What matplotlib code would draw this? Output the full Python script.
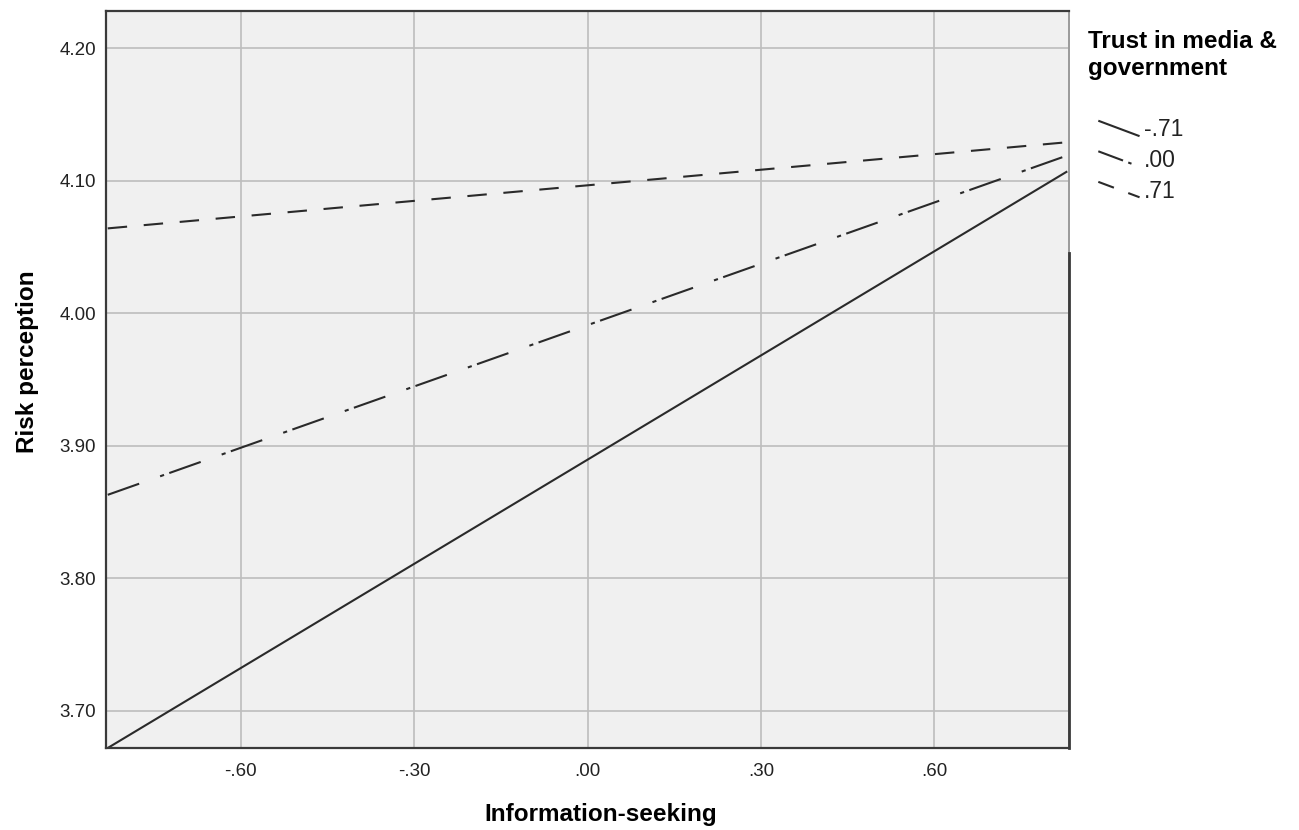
import matplotlib
matplotlib.use("Agg")
import matplotlib.pyplot as plt
from matplotlib.lines import Line2D
from matplotlib.legend_handler import HandlerLine2D

plt.rcParams['font.family'] = ['Liberation Sans', 'DejaVu Sans']
plt.rcParams['lines.scale_dashes'] = False

# data
info_seeking = [-0.83, 0.83]
trust_levels = ['-.71', '.00', '.71']
risk_low = [3.672, 4.107]    # trust -.71
risk_mid = [3.863, 4.119]    # trust .00
risk_high = [4.064, 4.129]   # trust .71
x_ticks = [-0.60, -0.30, 0.00, 0.30, 0.60]
x_ticklabels = ['-.60', '-.30', '.00', '.30', '.60']
y_ticks = [3.70, 3.80, 3.90, 4.00, 4.10, 4.20]
y_ticklabels = ['3.70', '3.80', '3.90', '4.00', '4.10', '4.20']

line_col = '#2a2a2a'
dash_styles = [(0, ()), (0, (24, 16, 3, 4)), (0, (14, 12))]
# the little legend samples show a shorter piece of each pattern
legend_dashes = [None, (19, 4, 2.5, 20), (12, 11)]


class DiagonalHandler(HandlerLine2D):
    # SPSS style legend samples: short falling diagonal
    def __init__(self, dashes=None, **kw):
        super().__init__(**kw)
        self.dashes = dashes

    def create_artists(self, legend, orig_handle, xdescent, ydescent,
                       width, height, fontsize, trans):
        x0 = -xdescent + 0.2 * width
        x1 = -xdescent + width
        ln = Line2D([x0, x1], [height - ydescent, -ydescent])
        self.update_prop(ln, orig_handle, legend)
        if self.dashes is not None:
            ln.set_dashes(self.dashes)
        ln.set_transform(trans)
        return [ln]


fig = plt.figure(figsize=(12.99, 8.30), dpi=100)
ax = fig.add_axes([106 / 1299, 82 / 830, 963 / 1299, 737 / 830])
ax.set_facecolor('#f0f0f0')

series = [risk_low, risk_mid, risk_high]
handles = []
for ys, ls, lab in zip(series, dash_styles, trust_levels):
    h, = ax.plot(info_seeking, ys, color=line_col, lw=1.5, linestyle=ls, label=lab)
    handles.append(h)

ax.set_xlim(-0.833, 0.833)
ax.set_ylim(3.672, 4.228)
ax.set_xticks(x_ticks)
ax.set_xticklabels(x_ticklabels)
ax.set_yticks(y_ticks)
ax.set_yticklabels(y_ticklabels)
ax.tick_params(length=0, labelsize=13.5, colors='#222222')
ax.tick_params(axis='x', pad=11)
ax.tick_params(axis='y', pad=7)
ax.grid(True, color='#bdbdbd', lw=1.2)
ax.set_axisbelow(True)

for side in ['left', 'bottom', 'top']:
    ax.spines[side].set_color('#3a3a3a')
    ax.spines[side].set_linewidth(1.6)
ax.spines['right'].set_color('#9a9a9a')
ax.spines['right'].set_linewidth(1.4)
ax.axvline(ax.get_xlim()[1], ymin=0, ymax=0.672, color='#3a3a3a', lw=2.0,
           clip_on=False, zorder=3)

ax.set_xlabel('Information-seeking', fontsize=17.5, fontweight='bold')
ax.xaxis.set_label_coords((601 - 106) / 963, -(814 - 748) / 737)
ax.xaxis.label.set_va('center')
ax.set_ylabel('Risk perception', fontsize=17.5, fontweight='bold')
ax.yaxis.set_label_coords(-(106 - 27) / 963, (748 - 362) / 737)
ax.yaxis.label.set_va('center')

hmap = {h: DiagonalHandler(dashes=d) for h, d in zip(handles, legend_dashes)}
leg = fig.legend(handles=handles, labels=trust_levels,
                 title='Trust in media &\ngovernment',
                 loc='upper left', bbox_to_anchor=(1088 / 1299, 1 - 30 / 830),
                 bbox_transform=fig.transFigure, frameon=False,
                 borderpad=0, borderaxespad=0, fontsize=16.5,
                 handlelength=2.25, handleheight=0.66, handletextpad=0.2,
                 labelspacing=0.33, alignment='left',
                 title_fontproperties={'weight': 'bold', 'size': 17.5},
                 handler_map=hmap)
for t in leg.get_texts():
    t.set_color('#222222')
leg._legend_box.sep = 28

fig.savefig('out.png', dpi=100)
